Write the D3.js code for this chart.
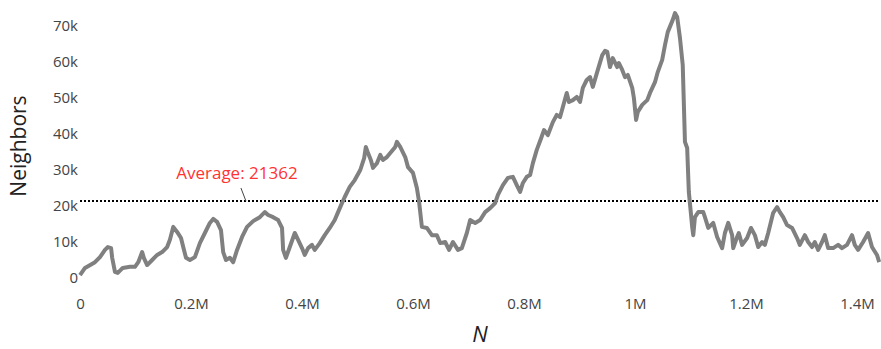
<!DOCTYPE html>
<html>
<head>
<meta charset="utf-8">
<script src="https://cdn.jsdelivr.net/npm/d3@7"></script>
<style>
  body { margin: 0; background: #fff; }
  .tick text { font: 15px "Open Sans", sans-serif; fill: #444; }
  .axis-title { font-family: "Open Sans", sans-serif; fill: #222; }
  .avg-label { font: 17px "Open Sans", sans-serif; fill: #ff3333; }
</style>
</head>
<body>
<svg width="881" height="349"></svg>
<script>
// N values (x) and neighbor counts (y)
const nValues = [
  0, 9000, 27000, 36000, 45000, 50000, 56000, 58000, 63000, 68000,
  77000, 90000, 99000, 105000, 112000, 115000, 121000, 130000, 139000, 148000,
  157000, 162000, 168000, 175000, 182000, 186000, 191000, 198000, 207000, 216000,
  225000, 234000, 240000, 247000, 254000, 258000, 263000, 270000, 276000, 283000,
  292000, 301000, 312000, 324000, 333000, 339000, 348000, 357000, 364000, 366000,
  371000, 378000, 387000, 393000, 400000, 405000, 411000, 418000, 423000, 432000,
  441000, 450000, 459000, 465000, 472000, 477000, 486000, 495000, 505000, 512000,
  515000, 519000, 524000, 528000, 535000, 541000, 546000, 553000, 559000, 568000,
  571000, 577000, 586000, 591000, 600000, 607000, 611000, 616000, 625000, 634000,
  643000, 649000, 658000, 665000, 672000, 681000, 688000, 697000, 703000, 712000,
  721000, 730000, 739000, 748000, 753000, 762000, 771000, 780000, 787000, 793000,
  798000, 805000, 811000, 816000, 823000, 831000, 836000, 843000, 852000, 859000,
  865000, 870000, 877000, 881000, 888000, 895000, 901000, 906000, 913000, 919000,
  924000, 933000, 941000, 946000, 950000, 955000, 960000, 968000, 971000, 977000,
  982000, 987000, 995000, 998000, 1002000, 1005000, 1013000, 1022000, 1027000, 1036000,
  1041000, 1049000, 1054000, 1059000, 1068000, 1072000, 1076000, 1081000, 1086000, 1090000,
  1094000, 1097000, 1101000, 1103000, 1105000, 1108000, 1114000, 1123000, 1126000, 1132000,
  1141000, 1148000, 1157000, 1162000, 1168000, 1175000, 1177000, 1184000, 1187000, 1193000,
  1202000, 1209000, 1216000, 1222000, 1229000, 1234000, 1240000, 1249000, 1256000, 1261000,
  1267000, 1274000, 1283000, 1292000, 1297000, 1306000, 1312000, 1319000, 1324000, 1330000,
  1337000, 1342000, 1348000, 1357000, 1366000, 1373000, 1382000, 1391000, 1396000, 1402000,
  1411000, 1420000, 1427000, 1436000, 1440000
];
const neighbors = [
  800, 2800, 4400, 5800, 7800, 8600, 8300, 5600, 1700, 1400,
  2800, 3100, 3100, 4400, 7200, 5600, 3600, 5000, 6400, 7200,
  8600, 10600, 14200, 12800, 11100, 8600, 5600, 5000, 5800, 9700,
  12500, 15300, 16400, 15600, 13300, 7200, 5000, 5600, 4400, 7800,
  11400, 14200, 15800, 16900, 18300, 17500, 16900, 16100, 13900, 7800,
  5600, 8600, 12500, 10600, 8300, 6400, 8300, 9200, 7800, 9700,
  11900, 13900, 16100, 18300, 20800, 22500, 25300, 27200, 30000, 33300,
  36400, 34700, 32800, 30600, 31900, 34200, 32800, 33600, 34700, 36400,
  37800, 36400, 33600, 30800, 29200, 25000, 21100, 14200, 13900, 11900,
  11900, 9700, 10000, 7800, 10000, 7800, 8300, 12500, 16100, 15300,
  16100, 18300, 19400, 20800, 23100, 25800, 27800, 28100, 25800, 23900,
  26400, 28100, 28600, 31900, 35600, 38900, 41100, 39700, 43300, 45300,
  44700, 47500, 51400, 48900, 49400, 50300, 48900, 52800, 55000, 55800,
  53100, 57800, 61900, 63100, 62800, 58600, 61100, 58600, 59700, 57800,
  55800, 56400, 52800, 50000, 43900, 46100, 48100, 49400, 51400, 54400,
  57200, 60600, 64700, 68300, 71700, 73600, 72500, 66700, 59200, 37800,
  36100, 23900, 17500, 14200, 11900, 16900, 18300, 18300, 16900, 13900,
  15300, 11400, 8300, 12500, 15300, 11900, 8300, 11400, 12500, 9200,
  11100, 13900, 11900, 8600, 10000, 9200, 12500, 18100, 19700, 18300,
  16900, 14700, 13900, 11100, 9200, 11900, 10000, 8600, 10000, 7800,
  10000, 11900, 8300, 8300, 9200, 8300, 9200, 11900, 9200, 7800,
  10000, 12500, 8600, 6400, 4400
];
const average = 21362;
const xTicks = [0, 200000, 400000, 600000, 800000, 1000000, 1200000, 1400000];
const xTickLabels = ['0', '0.2M', '0.4M', '0.6M', '0.8M', '1M', '1.2M', '1.4M'];
const yTicks = [0, 10000, 20000, 30000, 40000, 50000, 60000, 70000];
const yTickLabels = ['0', '10k', '20k', '30k', '40k', '50k', '60k', '70k'];

const svg = d3.select('svg');
const data = nValues.map((n, i) => ({ n: n, v: neighbors[i] }));

const x = d3.scaleLinear().domain([0, 1400000]).range([80, 857]);
const y = d3.scaleLinear().domain([0, 70000]).range([278, 26]);

// axes (no lines, labels only)
const xAxis = svg.append('g')
  .attr('transform', 'translate(0,295)')
  .call(d3.axisBottom(x).tickValues(xTicks).tickSize(0)
    .tickFormat((d, i) => xTickLabels[i]));
xAxis.select('.domain').remove();
xAxis.selectAll('text').attr('dy', '0.71em');

const yAxis = svg.append('g')
  .attr('transform', 'translate(79,0)')
  .call(d3.axisLeft(y).tickValues(yTicks).tickSize(0)
    .tickFormat((d, i) => yTickLabels[i]));
yAxis.select('.domain').remove();
yAxis.selectAll('text').attr('x', -1);

// average line
svg.append('line')
  .attr('x1', x(0)).attr('x2', x(d3.max(nValues)))
  .attr('y1', y(average)).attr('y2', y(average))
  .attr('stroke', '#000')
  .attr('stroke-width', 2)
  .attr('stroke-dasharray', '2,2');

// data line
const line = d3.line()
  .x(d => x(d.n))
  .y(d => y(d.v));

svg.append('path')
  .datum(data)
  .attr('d', line)
  .attr('fill', 'none')
  .attr('stroke', '#808080')
  .attr('stroke-width', 4)
  .attr('stroke-linejoin', 'round');

// annotation
const annX = 299000;
svg.append('line')
  .attr('x1', x(annX) - 5).attr('y1', 188)
  .attr('x2', x(annX)).attr('y2', y(average))
  .attr('stroke', '#444')
  .attr('stroke-width', 1);

svg.append('text')
  .attr('class', 'avg-label')
  .attr('x', x(annX) - 9)
  .attr('y', 179)
  .attr('text-anchor', 'middle')
  .text('Average: ' + average);

// axis titles
svg.append('text')
  .attr('class', 'axis-title')
  .attr('transform', 'translate(26,146) rotate(-90)')
  .attr('text-anchor', 'middle')
  .style('font-size', '21px')
  .text('Neighbors');

svg.append('text')
  .attr('class', 'axis-title')
  .attr('x', 480)
  .attr('y', 342)
  .attr('text-anchor', 'middle')
  .style('font-size', '22px')
  .style('font-style', 'italic')
  .text('N');
</script>
</body>
</html>
